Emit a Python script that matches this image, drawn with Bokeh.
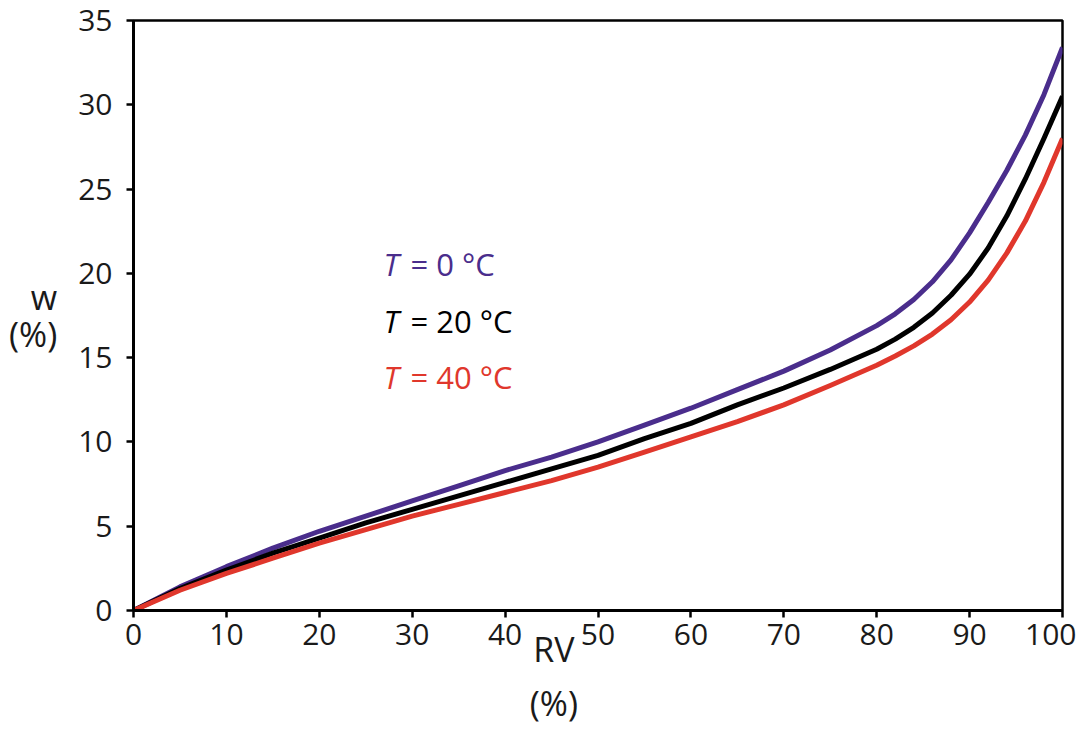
from bokeh.plotting import figure
from bokeh.models import FixedTicker, Range1d
from bokeh.core.properties import value
from bokeh.embed import file_html
from bokeh.resources import INLINE

rv = [0, 5, 10, 15, 20, 25, 30, 35, 40, 45, 50, 55, 60, 65, 70, 75, 80,
      82, 84, 86, 88, 90, 92, 94, 96, 98, 100]
w_0c = [0, 1.4, 2.6, 3.7, 4.7, 5.6, 6.5, 7.4, 8.3, 9.1, 10.0, 11.0, 12.0, 13.1, 14.2, 15.45, 16.9,
        17.6, 18.45, 19.5, 20.8, 22.4, 24.2, 26.1, 28.2, 30.6, 33.4]
w_20c = [0, 1.3, 2.4, 3.4, 4.3, 5.2, 6.0, 6.8, 7.6, 8.4, 9.2, 10.2, 11.1, 12.2, 13.2, 14.3, 15.5,
         16.1, 16.8, 17.65, 18.7, 19.95, 21.5, 23.4, 25.6, 28.0, 30.5]
w_40c = [0, 1.2, 2.2, 3.1, 4.0, 4.8, 5.6, 6.3, 7.0, 7.7, 8.5, 9.4, 10.3, 11.2, 12.2, 13.35, 14.55,
         15.1, 15.7, 16.4, 17.25, 18.3, 19.6, 21.2, 23.1, 25.4, 28.0]
temps = ["0", "20", "40"]
x_ticks = [0, 10, 20, 30, 40, 50, 60, 70, 80, 90, 100]
y_ticks = [0, 5, 10, 15, 20, 25, 30, 35]

colors = ["#4a2d8c", "#000000", "#e0372c"]
FONT = "Open Sans"
NB = "\u00a0" * 10

p = figure(width=1076, height=729, output_backend="svg", toolbar_location=None,
           x_range=Range1d(0, 100), y_range=Range1d(0, 35),
           min_border_left=133, min_border_right=14, min_border_top=20, min_border_bottom=119)
p.background_fill_color = "white"
p.border_fill_color = "white"
p.grid.visible = False
p.outline_line_color = "black"
p.outline_line_width = 2.5

for ax in (p.xaxis[0], p.yaxis[0]):
    ax.axis_line_width = 3
    ax.axis_line_color = "black"
    ax.major_tick_line_width = 2.5
    ax.major_tick_line_color = "black"
    ax.major_tick_out = 7
    ax.major_tick_in = 0
    ax.minor_tick_line_color = None
    ax.major_label_text_font = FONT
    ax.major_label_text_font_size = "30px"
    ax.major_label_text_color = "#1a1a1a"
    ax.axis_label_text_font = FONT
    ax.axis_label_text_font_size = "34px"
    ax.axis_label_text_font_style = "normal"
    ax.axis_label_text_color = "#1a1a1a"

p.xaxis.ticker = FixedTicker(ticks=x_ticks)
p.yaxis.ticker = FixedTicker(ticks=y_ticks)
p.xaxis.major_label_standoff = 6
p.yaxis.major_label_standoff = 14

p.xaxis.axis_label = "RV" + NB + "\n(%)" + NB
p.xaxis.axis_label_standoff = -22
p.xaxis.axis_label_text_line_height = 1.18
p.yaxis.axis_label = "w\n(%)"
p.yaxis.axis_label_orientation = "horizontal"
p.yaxis.axis_label_standoff = 18
p.yaxis.axis_label_text_line_height = 0.8

for ys, c in zip([w_0c, w_20c, w_40c], colors):
    p.line(rv, ys, line_color=c, line_width=5, line_join="round")

# legend texts
ly = [20.55, 17.15, 13.85]
for t, c, y in zip(temps, colors, ly):
    p.text(x=[26.9], y=[y], text=["T"], text_color=c, text_font=value(FONT),
           text_font_style="italic", text_font_size="31px", text_baseline="middle")
    p.text(x=[26.9], y=[y], text=[f"= {t} °C"], text_color=c, text_font=value(FONT),
           text_font_size="31px", text_baseline="middle", x_offset=27)

open("out.html", "w").write(file_html(p, INLINE))
